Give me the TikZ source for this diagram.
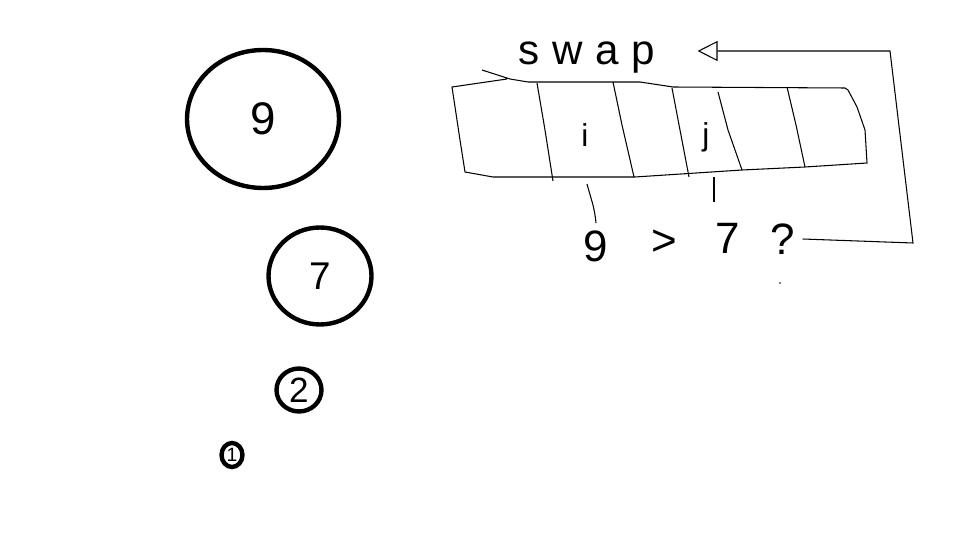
\documentclass[tikz,border=0pt]{standalone}
\usepackage{fontspec}
\setmainfont{Liberation Sans}
\newfontfamily\spaced[LetterSpace=30]{Liberation Sans}
\usetikzlibrary{shapes.geometric,arrows.meta}

\begin{document}
\begin{tikzpicture}[x=0.02cm,y=-0.02cm,
  ball/.style={draw, ellipse, line width=2.5pt, inner sep=0pt},
  pen/.style={line width=0.6pt},
  scrawl/.style={inner sep=4pt, font=\fontsize{25}{25}\selectfont}]
\useasboundingbox (0,0) rectangle (960,540);

% the heap, biggest on top
\node[ball, minimum width=3.04cm, minimum height=2.76cm, font=\fontsize{26}{26}\selectfont] (b9) at (263,119) {9};
\node[ball, minimum width=2.06cm, minimum height=1.94cm, font=\fontsize{22}{22}\selectfont] (b7) at (320,276) {7};
\node[ball, minimum width=0.9cm, minimum height=0.86cm, font=\fontsize{20}{20}\selectfont] (b2) at (299,390) {2};
\node[ball, minimum width=0.42cm, minimum height=0.48cm, font=\fontsize{11}{11}\selectfont] (b1) at (232,455) {1};

% the array
\draw[pen] (482,70) -- (510,79) -- (528,82) -- (640,82) -- (673,87) -- (845,88) -- (848,90)
  -- (857,107) -- (865,130) -- (867,163) -- (805,167) -- (742,170) -- (635,177) -- (493,177)
  -- (465,172) -- (460,140) -- (452,87) -- (507,79);
\draw[pen] (537,83) -- (545,130) -- (553,181);
\draw[pen] (613,82) -- (622,125) -- (634,177);
\draw[pen] (672,88) -- (680,130) -- (689,177);
\draw[pen] (718,92) -- (728,130) -- (742,170);
\draw[pen] (787,87) -- (796,125) -- (805,167);

\node[font=\fontsize{18}{18}\selectfont] (i) at (585,135) {i};
\node[font=\fontsize{18}{18}\selectfont] (j) at (706,137) {j};
\coordinate (ti) at (587,184);
\coordinate (tj) at (714,177);

% compare and swap
\node[scrawl, inner xsep=0.84cm, font=\fontsize{24}{24}\spaced] (swap) at (587,58) {swap};
\node[scrawl] (n9) at (596,246) {9};
\node[scrawl] (gt) at (664,243) {>};
\node[scrawl] (n7) at (728,238) {7};
\node[scrawl] (q) at (783,239) {?};

\draw[pen] (ti) to[out=-75,in=95] (n9.north);
\draw[pen] (tj) -- (714,202);
\draw[pen, -{Triangle[open,length=0.4cm,width=0.4cm]}] (q.east) -- (913,243) -- (890,51) -- (swap.east |- 0,51);
\fill (780,283) circle (0.8);
\end{tikzpicture}
\end{document}
